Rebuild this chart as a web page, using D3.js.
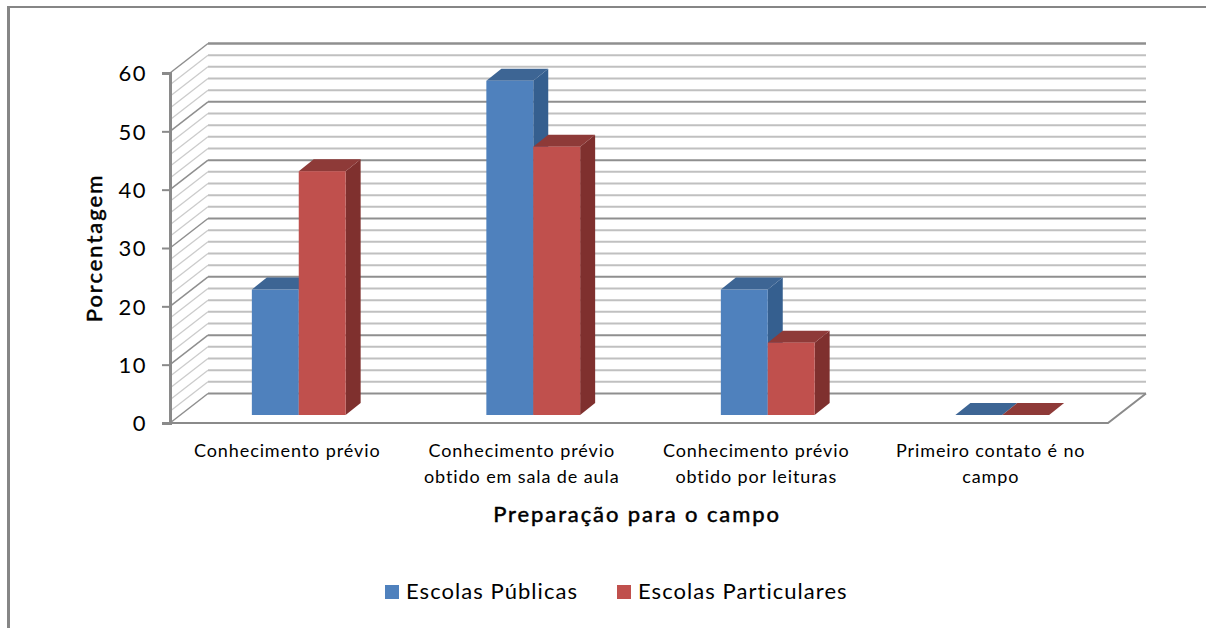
<!DOCTYPE html>
<html><head><meta charset="utf-8">
<style>
html,body{margin:0;padding:0;background:#fff}
svg{display:block}
text{font-family:Lato,"Open Sans",sans-serif;fill:#000}
</style>
<script src="https://cdn.jsdelivr.net/npm/d3@7"></script>
</head><body>
<svg id="c" width="1206" height="628"></svg>
<script>
const categories = [["Conhecimento prévio"],["Conhecimento prévio","obtido em sala de aula"],["Conhecimento prévio","obtido por leituras"],["Primeiro contato é no","campo"]];
const seriesNames = ["Escolas Públicas","Escolas Particulares"];
const publicas = [21.5,57.3,21.5,0];
const particulares = [41.8,46.0,12.4,0];
const yTicks = [0,10,20,30,40,50,60];
const minorTicks = d3.range(0,61,2);
const xTitle = "Preparação para o campo";
const yTitle = "Porcentagem";
const faces = [{front:"#4F81BD",side:"#355F8F",top:"#3D6594"},{front:"#C0504D",side:"#7F302E",top:"#8E3A38"}];

const svg = d3.select("#c");
const DX=38, DY=-29.5;            // wall depth
const BX=11.5, BY=-8;             // bar placement in depth
const SX=15, SY=-12;              // bar depth
const x0 = d3.scaleBand().domain(d3.range(categories.length)).range([170,1108]);
const x1 = d3.scaleBand().domain(d3.range(seriesNames.length)).range([-x0.bandwidth()/5,x0.bandwidth()/5]);
const y = d3.scaleLinear().domain([0,60]).range([423,73]);

// frame
svg.append("path").attr("d","M8.5,628V6").attr("fill","none").attr("stroke","#868686").attr("stroke-width",3);
svg.append("path").attr("d","M7,7H1206").attr("fill","none").attr("stroke","#868686").attr("stroke-width",2);

// gridlines
const grid = svg.append("g").attr("fill","none");
minorTicks.forEach(t=>{
  const major = t%10===0;
  const col = major?"#8f8f8f":"#c0c0c0";
  const yy = y(t);
  grid.append("path").attr("d",`M${x0.range()[0]},${yy}L${x0.range()[0]+DX},${yy+DY}`)
    .attr("stroke",major?"#8f8f8f":"#cccccc").attr("stroke-width",major?1.5:1.3);
  grid.append("path").attr("d",`M${x0.range()[0]+DX},${yy+DY}H${x0.range()[1]+DX}`)
    .attr("stroke",col).attr("stroke-width",t===60?2.5:2);
});
// floor
grid.append("path").attr("d",`M${x0.range()[0]},${y(0)}H${x0.range()[1]}L${x0.range()[1]+DX},${y(0)+DY}`)
  .attr("stroke","#8a8a8a").attr("stroke-width",2);

// y axis
const axis = svg.append("g").attr("transform","translate(170,0)")
  .call(d3.axisLeft(y).tickValues(yTicks).tickSize(8).tickPadding(15));
axis.selectAll("path.domain").attr("stroke","#8a8a8a").attr("stroke-width",3);
axis.selectAll("line").attr("stroke","#8a8a8a").attr("stroke-width",2);
axis.selectAll("text").attr("font-size",22).attr("fill","#111").attr("dy","0.36em")
  .style("font-family","Lato").style("letter-spacing","1.5px");

// bars
const bars = svg.append("g");
[publicas,particulares].forEach((vals,s)=>{
  const c = faces[s];
  vals.forEach((v,i)=>{
    const xl = x0(i)+x0.bandwidth()/2+x1(s)+BX, w = x1.bandwidth();
    const yb = y(0)+BY, yt = y(v)+BY;
    const xr = xl+w;
    bars.append("path").attr("fill",c.side)
      .attr("d",`M${xr},${yt}L${xr+SX},${yt+SY}V${yb+SY}L${xr},${yb}Z`);
    bars.append("path").attr("fill",c.top)
      .attr("d",`M${xl},${yt}L${xl+SX},${yt+SY}H${xr+SX}L${xr},${yt}Z`);
    bars.append("rect").attr("x",xl).attr("y",yt).attr("width",w).attr("height",yb-yt).attr("fill",c.front);
  });
});

// category labels
categories.forEach((lines,i)=>{
  lines.forEach((l,j)=>{
    svg.append("text").attr("x",x0(i)+x0.bandwidth()/2).attr("y",457+j*26)
      .attr("text-anchor","middle").attr("font-size",18).style("letter-spacing","0.9px").text(l);
  });
});

// titles
svg.append("text").attr("x",637).attr("y",522).attr("text-anchor","middle")
  .attr("font-size",22).attr("stroke","#000").attr("stroke-width",0.5).style("letter-spacing","1.9px").text(xTitle);
svg.append("text").attr("transform","translate(102,248) rotate(-90)").attr("text-anchor","middle")
  .attr("font-size",22).attr("stroke","#000").attr("stroke-width",0.5).style("letter-spacing","2px").text(yTitle);

// legend
const legendX=[385,617];
seriesNames.forEach((n,s)=>{
  svg.append("rect").attr("x",legendX[s]).attr("y",585).attr("width",14).attr("height",14).attr("fill",faces[s].front);
  svg.append("text").attr("x",legendX[s]+21).attr("y",599).attr("font-size",22).attr("fill","#111")
    .style("letter-spacing","1.05px").text(n);
});
</script>
</body></html>
